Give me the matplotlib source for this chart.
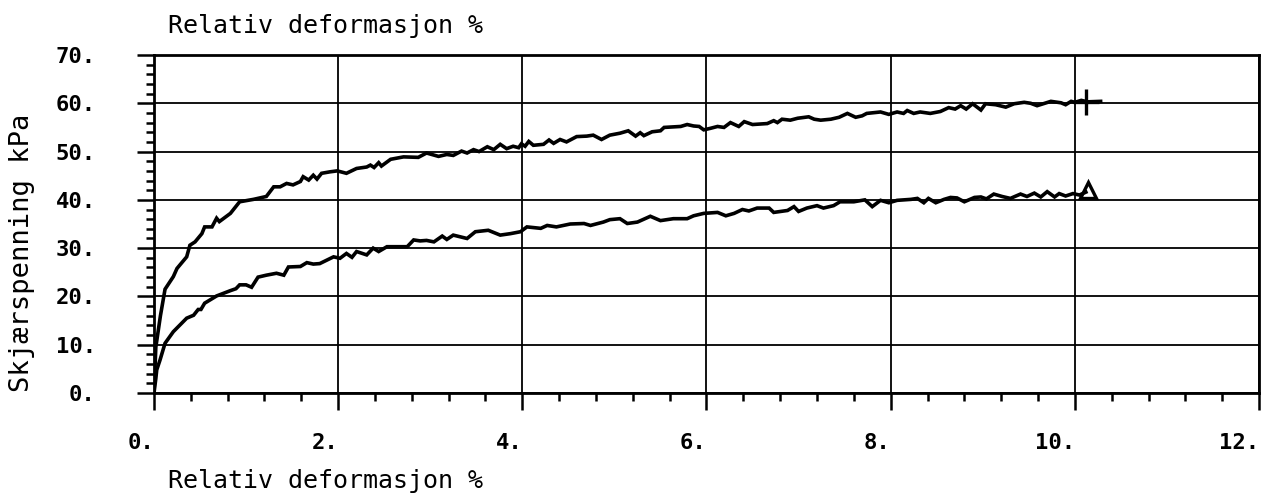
import matplotlib.pyplot as plt
import numpy as np
from matplotlib.ticker import MultipleLocator

plt.rcParams['font.family'] = ['DejaVu Sans Mono', 'DejaVu Sans']

# upper curve (+)
upper_x = [0, 0.02, 0.07, 0.12, 0.21, 0.25, 0.355, 0.39, 0.446, 0.52, 0.55, 0.63, 0.68, 0.71,
           0.83, 0.93, 1.08, 1.22, 1.30, 1.37, 1.44, 1.51, 1.59, 1.62, 1.68, 1.73, 1.77, 1.82,
           1.91, 1.99, 2.09, 2.20, 2.31, 2.35, 2.39, 2.44, 2.47, 2.57, 2.71, 2.87, 2.96, 3.09,
           3.18, 3.25, 3.34, 3.40, 3.47, 3.53, 3.62, 3.69, 3.76, 3.83, 3.90, 3.96, 3.99, 4.03,
           4.07, 4.12, 4.23, 4.29, 4.34, 4.41, 4.48, 4.59, 4.70, 4.77, 4.86, 4.95, 5.06, 5.15,
           5.23, 5.28, 5.32, 5.41, 5.50, 5.54, 5.64, 5.72, 5.79, 5.86, 5.92, 5.97, 6.04, 6.12,
           6.19, 6.26, 6.35, 6.41, 6.50, 6.66, 6.73, 6.77, 6.82, 6.91, 6.99, 7.11, 7.17, 7.24,
           7.35, 7.44, 7.53, 7.62, 7.69, 7.74, 7.89, 7.98, 8.07, 8.14, 8.18, 8.25, 8.32, 8.43,
           8.54, 8.63, 8.70, 8.76, 8.82, 8.89, 8.98, 9.03, 9.14, 9.25, 9.34, 9.45, 9.52, 9.59,
           9.74, 9.85, 9.90, 9.96, 10.00, 10.07, 10.14, 10.28]
upper_y = [0, 9.5, 16, 21.5, 24.1, 25.8, 28.2, 30.6, 31.3, 33.0, 34.4, 34.4, 36.2, 35.5,
           37.2, 39.6, 40.1, 40.7, 42.7, 42.7, 43.4, 43.1, 43.8, 44.8, 44.1, 45.1, 44.3, 45.5,
           45.8, 46.0, 45.5, 46.5, 46.8, 47.2, 46.7, 47.7, 47.0, 48.4, 48.9, 48.8, 49.7, 49.0,
           49.4, 49.2, 50.1, 49.7, 50.4, 50.0, 51.0, 50.4, 51.5, 50.6, 51.1, 50.8, 51.6, 51.1,
           52.1, 51.3, 51.5, 52.4, 51.7, 52.5, 52.0, 53.1, 53.2, 53.4, 52.5, 53.4, 53.8, 54.3,
           53.2, 53.9, 53.3, 54.1, 54.3, 55.0, 55.1, 55.2, 55.6, 55.3, 55.2, 54.5, 54.8, 55.2,
           55.0, 56.0, 55.2, 56.2, 55.6, 55.8, 56.4, 56.0, 56.7, 56.5, 56.9, 57.2, 56.7, 56.5,
           56.7, 57.1, 57.9, 57.1, 57.4, 57.9, 58.2, 57.7, 58.2, 57.9, 58.5, 57.9, 58.2, 57.9,
           58.3, 59.1, 58.8, 59.5, 58.8, 59.9, 58.6, 59.9, 59.7, 59.2, 59.9, 60.2, 60.0, 59.5,
           60.4, 60.1, 59.7, 60.4, 60.2, 60.6, 60.3, 60.4]

# lower curve (triangle)
lower_x = [0, 0.02, 0.03, 0.065, 0.12, 0.21, 0.355, 0.43, 0.48, 0.51, 0.55, 0.68, 0.83, 0.89,
           0.93, 1.00, 1.06, 1.13, 1.22, 1.33, 1.41, 1.46, 1.59, 1.66, 1.73, 1.80, 1.95, 2.02,
           2.09, 2.15, 2.20, 2.31, 2.38, 2.44, 2.53, 2.75, 2.82, 2.89, 2.96, 3.04, 3.13, 3.18,
           3.25, 3.40, 3.49, 3.63, 3.76, 3.87, 3.98, 4.05, 4.20, 4.27, 4.37, 4.52, 4.67, 4.74,
           4.88, 4.95, 5.06, 5.14, 5.25, 5.39, 5.50, 5.64, 5.79, 5.86, 5.97, 6.12, 6.21, 6.30,
           6.39, 6.46, 6.55, 6.68, 6.73, 6.88, 6.95, 7.00, 7.09, 7.20, 7.27, 7.38, 7.45, 7.60,
           7.72, 7.80, 7.89, 7.98, 8.07, 8.22, 8.29, 8.36, 8.41, 8.49, 8.58, 8.65, 8.72, 8.80,
           8.91, 8.98, 9.04, 9.12, 9.21, 9.30, 9.41, 9.48, 9.56, 9.63, 9.70, 9.78, 9.83, 9.90,
           9.98, 10.05, 10.12]
lower_y = [0, 3.0, 4.8, 6.8, 10.3, 12.7, 15.5, 16.1, 17.3, 17.3, 18.6, 20.1, 21.2, 21.6,
           22.4, 22.4, 21.9, 24.0, 24.4, 24.8, 24.4, 26.1, 26.2, 27.0, 26.7, 26.8, 28.2, 27.9,
           28.9, 28.1, 29.3, 28.6, 30.0, 29.3, 30.3, 30.3, 31.7, 31.5, 31.6, 31.3, 32.5, 31.8,
           32.7, 32.0, 33.4, 33.7, 32.7, 33.0, 33.4, 34.4, 34.1, 34.7, 34.4, 35.0, 35.1, 34.7,
           35.4, 35.9, 36.1, 35.1, 35.4, 36.6, 35.7, 36.1, 36.1, 36.7, 37.2, 37.4, 36.7, 37.2,
           38.0, 37.7, 38.3, 38.3, 37.4, 37.8, 38.6, 37.6, 38.3, 38.8, 38.3, 38.8, 39.6, 39.6,
           40.0, 38.6, 39.9, 39.4, 39.9, 40.1, 40.3, 39.4, 40.3, 39.4, 40.1, 40.5, 40.4, 39.6,
           40.5, 40.6, 40.2, 41.2, 40.7, 40.3, 41.2, 40.7, 41.4, 40.6, 41.7, 40.6, 41.3, 40.8,
           41.3, 41.0, 41.6]

# end symbols
plus_xy = (10.12, 60.2)
tri_xy = (10.14, 42.0)

x_ticks = [0, 2, 4, 6, 8, 10, 12]
x_labels = ['0.', '2.', '4.', '6.', '8.', '10.', '12.']
y_ticks = [0, 10, 20, 30, 40, 50, 60, 70]
y_labels = ['0.', '10.', '20.', '30.', '40.', '50.', '60.', '70.']

fig = plt.figure(figsize=(12.8, 4.99), dpi=100)
ax = fig.add_axes([0.1203, 0.2124, 0.8633, 0.6774])

ax.plot(upper_x, upper_y, color='black', lw=2.6, solid_joinstyle='miter')
ax.plot(lower_x, lower_y, color='black', lw=2.6, solid_joinstyle='miter')
ax.plot(*plus_xy, marker='+', ms=19, mew=2.4, color='black')
ax.plot(*tri_xy, marker='^', ms=12, mew=2.4, mfc='none', mec='black')

ax.set_xlim(0, 12)
ax.set_ylim(0, 70)
ax.set_xticks(x_ticks)
ax.set_xticklabels(x_labels, ha='right', fontsize=16, fontweight='bold')
ax.set_yticks(y_ticks)
ax.set_yticklabels(y_labels, fontsize=16, fontweight='bold')
ax.xaxis.set_minor_locator(MultipleLocator(0.4))
ax.yaxis.set_minor_locator(MultipleLocator(2))
ax.tick_params(which='major', direction='out', length=12, width=1.8, color='black')
ax.tick_params(which='minor', direction='out', length=6, width=1.8, color='black')
ax.tick_params(axis='x', which='major', pad=17)
ax.tick_params(axis='y', which='major', pad=30)
ax.grid(True, which='major', color='black', lw=1.3)
for s in ax.spines.values():
    s.set_linewidth(2)

fig.text(168/1280, 1 - 26/499, 'Relativ deformasjon %', fontsize=18, va='center', ha='left')
fig.text(168/1280, 1 - 481/499, 'Relativ deformasjon %', fontsize=18, va='center', ha='left')
fig.text(22/1280, 1 - 253/499, 'Skjærspenning kPa', fontsize=19.5, rotation=90,
         va='center', ha='center')

fig.savefig('out.png', dpi=100)
